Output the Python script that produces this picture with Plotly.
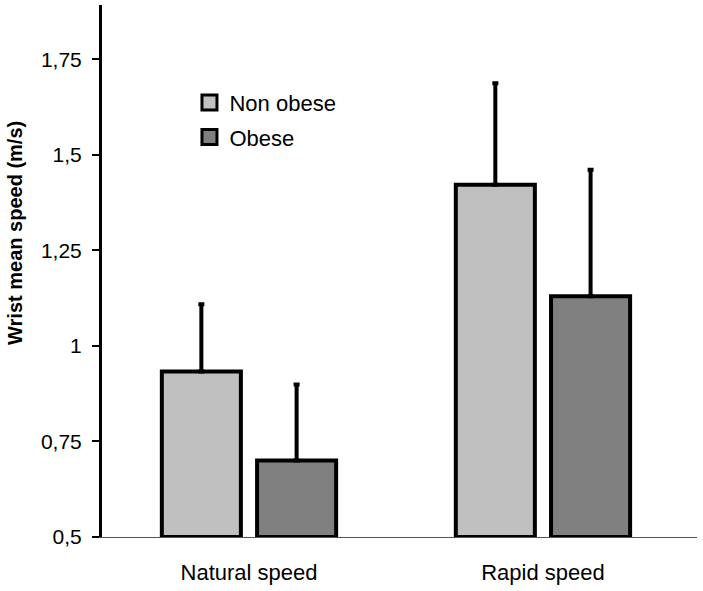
import plotly.graph_objects as go

categories = ["Natural speed", "Rapid speed"]
non_obese = [0.933, 1.422]
non_obese_err = [0.176, 0.265]
obese = [0.70, 1.130]
obese_err = [0.199, 0.331]
y_ticks = [0.5, 0.75, 1.0, 1.25, 1.5, 1.75]
y_tick_labels = ["0,5", "0,75", "1", "1,25", "1,5", "1,75"]
y_base = 0.5
series_names = ["Non obese", "Obese"]
series_colors = ["#C0C0C0", "#808080"]

fig = go.Figure()
for name, color, vals, errs in zip(series_names, series_colors,
                                   [non_obese, obese], [non_obese_err, obese_err]):
    fig.add_trace(go.Bar(
        x=categories, y=[v - y_base for v in vals], base=y_base, name=name,
        showlegend=False,
        marker=dict(color=color, line=dict(color="black", width=4)),
        error_y=dict(type="data", array=errs, arrayminus=[0, 0], symmetric=False,
                     color="black", thickness=4, width=3),
    ))
for i, (name, color) in enumerate(zip(series_names, series_colors)):
    fig.add_trace(go.Scatter(
        x=[None], y=[None], mode="markers", name=name, legendgroup=str(i),
        marker=dict(symbol="square", size=15, color=color,
                    line=dict(color="black", width=3)),
    ))

fig.update_layout(
    width=703, height=591,
    margin=dict(l=102, r=6, t=5, b=54, autoexpand=False),
    paper_bgcolor="white", plot_bgcolor="white",
    barmode="group", bargap=0.352, bargroupgap=0.17,
    font=dict(family="Liberation Sans, Arial, sans-serif", color="black", size=21),
    showlegend=True,
    legend=dict(x=0.147, y=0.856, xanchor="left", yanchor="top",
                font=dict(size=22), bgcolor="rgba(0,0,0,0)",
                itemsizing="trace", tracegroupgap=3, itemwidth=30),
    xaxis=dict(showline=True, linecolor="#555555", linewidth=1, ticks="",
               range=[-0.5, 1.524], tickfont=dict(size=22), showgrid=False,
               automargin=False, ticklabelstandoff=16),
    yaxis=dict(range=[0.5, 1.892], tickvals=y_ticks, ticktext=y_tick_labels,
               showline=True, linecolor="black", linewidth=3, ticks="outside",
               ticklen=7, tickwidth=2, tickcolor="black", showgrid=False,
               zeroline=False, tickfont=dict(size=21), automargin=False,
               ticklabelstandoff=6),
    annotations=[dict(text="<b>Wrist mean speed (m/s)</b>", textangle=-90,
                      xref="paper", yref="paper", x=-0.145, y=0.571,
                      xanchor="center", yanchor="middle", showarrow=False,
                      font=dict(size=20))],
)

fig.write_html("out.html", config={"displayModeBar": False},
               post_script="document.body.style.margin='0';")
